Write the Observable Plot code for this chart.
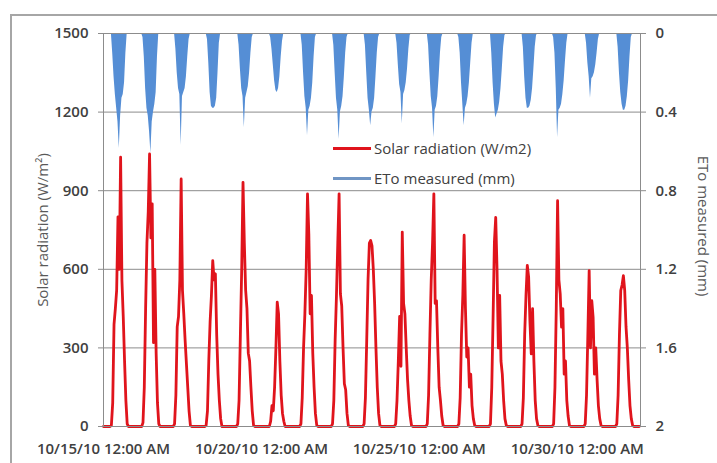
<!DOCTYPE html>
<html>
<head>
<meta charset="utf-8">
<script src="https://cdn.jsdelivr.net/npm/d3@7"></script>
<script src="https://cdn.jsdelivr.net/npm/@observablehq/plot@0.6"></script>
<style>
  html, body { margin: 0; padding: 0; background: #fff; }
  #wrap { position: relative; width: 717px; height: 463px; overflow: hidden; font-family: "Open Sans", sans-serif; }
  #border { position: absolute; left: 10px; top: 14px; right: -5px; bottom: -5px;
            border-left: 2px solid #a6a6a6; border-top: 2px solid #a6a6a6; pointer-events: none; }
  #legend { position: absolute; left: 333px; top: 133px; font-size: 15px; color: #404040; }
  .item { display: flex; align-items: center; height: 30px; white-space: nowrap; }
  .swatch { width: 38px; height: 3px; margin-right: 3px; }
  #chart svg { display: block; }
</style>
</head>
<body>
<div id="wrap">
  <div id="chart"></div>
  <div id="border"></div>
  <div id="legend"></div>
</div>
<script>
// Days of the record (Oct 15 - Oct 31, 2010)
const days = ["2010-10-15","2010-10-16","2010-10-17","2010-10-18","2010-10-19","2010-10-20",
              "2010-10-21","2010-10-22","2010-10-23","2010-10-24","2010-10-25","2010-10-26",
              "2010-10-27","2010-10-28","2010-10-29","2010-10-30","2010-10-31"];

// Daylight hours with readings; every other hour is 0
const dayHours = [6,7,8,9,10,11,12,13,14,15,16,17,18];

// Hourly solar radiation (W/m2), one row per day, columns = dayHours
const solar = [
  [5, 90, 390, 450, 520, 800, 600, 1028, 557, 420, 250, 100, 10],
  [15, 150, 450, 700, 820, 1040, 720, 850, 320, 600, 280, 90, 10],
  [10, 120, 380, 420, 560, 945, 520, 430, 330, 240, 150, 60, 5],
  [5, 60, 250, 400, 500, 633, 560, 583, 350, 200, 100, 30, 0],
  [10, 100, 350, 600, 932, 700, 520, 450, 280, 250, 150, 60, 5],
  [0, 20, 80, 60, 150, 300, 475, 430, 250, 120, 50, 20, 0],
  [10, 110, 300, 430, 600, 888, 735, 430, 500, 280, 150, 50, 5],
  [10, 100, 330, 500, 700, 888, 506, 460, 300, 163, 140, 50, 5],
  [10, 110, 330, 560, 700, 710, 690, 600, 470, 300, 150, 50, 5],
  [10, 100, 250, 420, 230, 742, 470, 430, 300, 180, 100, 40, 5],
  [10, 120, 350, 560, 700, 888, 470, 480, 300, 150, 100, 40, 5],
  [10, 110, 350, 500, 730, 450, 265, 300, 150, 200, 80, 30, 5],
  [10, 150, 417, 704, 798, 600, 300, 500, 250, 200, 100, 30, 5],
  [10, 110, 350, 500, 615, 571, 400, 277, 450, 250, 100, 30, 5],
  [10, 150, 450, 862, 560, 506, 379, 450, 200, 250, 100, 40, 5],
  [10, 120, 350, 595, 300, 480, 417, 200, 300, 180, 80, 30, 5],
  [10, 120, 350, 519, 540, 576, 520, 380, 300, 180, 80, 30, 5]
];

// Hourly measured ETo (mm), same layout
const eto = [
  [0, 0.1, 0.22, 0.31, 0.38, 0.45, 0.585, 0.42, 0.33, 0.31, 0.25, 0.1, 0],
  [0.02, 0.12, 0.28, 0.38, 0.42, 0.5, 0.61, 0.45, 0.4, 0.36, 0.3, 0.12, 0],
  [0, 0.08, 0.2, 0.28, 0.31, 0.57, 0.32, 0.3, 0.28, 0.22, 0.12, 0.03, 0],
  [0, 0.03, 0.15, 0.3, 0.37, 0.38, 0.38, 0.37, 0.33, 0.2, 0.05, 0, 0],
  [0, 0.06, 0.18, 0.28, 0.32, 0.48, 0.33, 0.3, 0.27, 0.2, 0.1, 0.02, 0],
  [0, 0.02, 0.08, 0.16, 0.24, 0.29, 0.30, 0.28, 0.22, 0.12, 0.04, 0, 0],
  [0, 0.06, 0.2, 0.32, 0.38, 0.52, 0.39, 0.37, 0.33, 0.25, 0.12, 0.02, 0],
  [0, 0.06, 0.2, 0.33, 0.39, 0.54, 0.4, 0.37, 0.32, 0.22, 0.1, 0.02, 0],
  [0, 0.06, 0.2, 0.33, 0.39, 0.47, 0.4, 0.38, 0.33, 0.22, 0.1, 0.02, 0],
  [0, 0.05, 0.16, 0.26, 0.3, 0.46, 0.31, 0.29, 0.25, 0.18, 0.08, 0.01, 0],
  [0, 0.06, 0.2, 0.32, 0.38, 0.53, 0.39, 0.37, 0.32, 0.22, 0.1, 0.02, 0],
  [0.02, 0.1, 0.25, 0.36, 0.47, 0.38, 0.36, 0.32, 0.25, 0.15, 0.05, 0, 0],
  [0, 0.1, 0.25, 0.36, 0.43, 0.41, 0.39, 0.35, 0.28, 0.18, 0.07, 0.01, 0],
  [0, 0.07, 0.22, 0.33, 0.38, 0.38, 0.37, 0.34, 0.28, 0.18, 0.07, 0.01, 0],
  [0.02, 0.1, 0.28, 0.53, 0.39, 0.38, 0.36, 0.31, 0.24, 0.14, 0.05, 0, 0],
  [0, 0.05, 0.15, 0.22, 0.33, 0.23, 0.22, 0.2, 0.16, 0.1, 0.03, 0, 0],
  [0, 0.07, 0.2, 0.3, 0.36, 0.39, 0.39, 0.37, 0.32, 0.24, 0.12, 0.02, 0]
];

// Axis ticks
const solarTicks = [0, 300, 600, 900, 1200, 1500];
const etoTicks = [0, 0.4, 0.8, 1.2, 1.6, 2];
const dateTicks = ["2010-10-15", "2010-10-20", "2010-10-25", "2010-10-30"];
const xStart = "2010-10-15", xEnd = "2010-11-01";

// Series labels
const solarName = "Solar radiation (W/m2)";
const etoName = "ETo measured (mm)";
const solarTitle = "Solar radiation (W/m²)";
const solarColor = "#e0141c";
const etoColor = "#558ed5";

// ETo is read on a reversed secondary axis: 0 mm at the top (1500), 2 mm at the bottom (0)
const solarMax = solarTicks[solarTicks.length - 1];
const etoMax = etoTicks[etoTicks.length - 1];
const etoToSolar = v => solarMax - v * solarMax / etoMax;
const solarToEto = v => (solarMax - v) * etoMax / solarMax;

// Hourly table over the whole record
const series = [];
days.forEach((day, i) => {
  const base = new Date(day + "T00:00:00Z");
  for (let h = 0; h < 24; h++) {
    const k = dayHours.indexOf(h);
    series.push({
      t: new Date(base.getTime() + h * 3600e3),
      solar: k >= 0 ? solar[i][k] : 0,
      eto: k >= 0 ? eto[i][k] : 0
    });
  }
});

const fmtDate = d3.utcFormat("%-m/%-d/%y %-I:%M %p");
const tickText = { fill: "#404040", fontWeight: 600 };
const titleText = { fill: "#595959", fontWeight: 400 };

const chart = Plot.plot({
  width: 717,
  height: 463,
  marginLeft: 103,
  marginRight: 77,
  marginTop: 33,
  marginBottom: 37,
  style: { fontFamily: "'Open Sans', sans-serif", fontSize: "15px", background: "transparent", color: "#404040" },
  x: { type: "utc", domain: [new Date(xStart + "T00:00:00Z"), new Date(xEnd + "T00:00:00Z")] },
  y: { domain: [0, solarMax] },
  marks: [
    Plot.gridY(solarTicks, { stroke: "#8c8c8c", strokeOpacity: 1 }),
    Plot.area(series, { x1: "t", y1: () => solarMax, y2: d => etoToSolar(d.eto), fill: etoColor }),
    Plot.line(series, { x: "t", y: "solar", stroke: solarColor, strokeWidth: 2.8 }),
    Plot.frame({ stroke: "#8c8c8c" }),
    // left axis: ticks and title
    Plot.axisY(solarTicks, {
      anchor: "left", tickSize: 5, tickPadding: 10, stroke: "#8c8c8c", ...tickText,
      tickFormat: v => String(v), label: null
    }),
    Plot.axisY([], {
      anchor: "left", tickSize: 0, ...titleText,
      label: solarTitle, labelAnchor: "center", labelOffset: 66, labelArrow: "none"
    }),
    // right axis (ETo, reversed): ticks and a title reading top to bottom
    Plot.axisY(etoTicks.map(etoToSolar), {
      anchor: "right", tickSize: 5, tickPadding: 10, stroke: "#8c8c8c", ...tickText,
      tickFormat: v => String(+solarToEto(v).toFixed(1)), label: null
    }),
    Plot.text([etoName], {
      frameAnchor: "right", rotate: 90, dx: 62, dy: -4, textAnchor: "middle",
      text: d => d, ...titleText, fontSize: 15
    }),
    Plot.axisX(dateTicks.map(s => new Date(s + "T00:00:00Z")), {
      tickSize: 0, tickPadding: 17, ...tickText,
      tickFormat: fmtDate, label: null
    })
  ]
});
document.getElementById("chart").append(chart);

// Legend
const legend = document.getElementById("legend");
[[solarName, solarColor], [etoName, "#7095c4"]].forEach(([name, color]) => {
  const row = document.createElement("div");
  row.className = "item";
  const sw = document.createElement("span");
  sw.className = "swatch";
  sw.style.background = color;
  const tx = document.createElement("span");
  tx.textContent = name;
  row.append(sw, tx);
  legend.append(row);
});
</script>
</body>
</html>
